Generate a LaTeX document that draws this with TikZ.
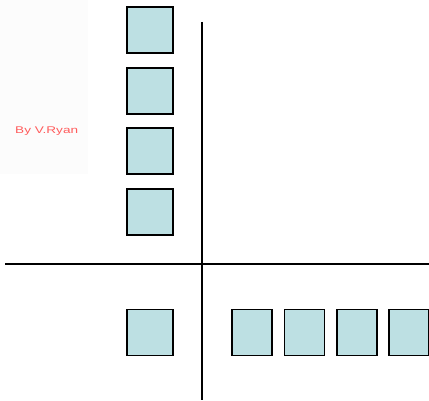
\documentclass[tikz,border=0pt]{standalone}
\usepackage{fontspec}
\setmainfont{Liberation Sans}
\definecolor{sqfill}{HTML}{BDE0E3}
\definecolor{wm}{HTML}{FF5C5C}
\begin{document}
\begin{tikzpicture}[x=1pt,y=-1pt,
  sq/.style={draw=black,line width=1.6pt,fill=sqfill,minimum width=46pt,minimum height=46pt,inner sep=0pt,outer sep=0pt},
  sqn/.style={sq,minimum width=40pt,minimum height=46pt},
  axis/.style={draw=black,line width=1.5pt}]
\useasboundingbox (0,0) rectangle (429,401);
\fill[black!1] (0,0) rectangle (88,174);
\node[text=wm,font=\fontsize{9.7}{10}\selectfont,inner sep=0pt,anchor=west] (wmark) at (15,131) {\scalebox{1.4}[1]{By V.Ryan}};
\node[sq] (a1) at (150,30) {};
\node[sq] (a2) at (150,91) {};
\node[sq] (a3) at (150,151) {};
\node[sq] (a4) at (150,212) {};
\node[sq] (b0) at (150,332.5) {};
\node[sqn] (b1) at (252,332.5) {};
\node[sqn] (b2) at (304.5,332.5) {};
\node[sqn] (b3) at (357,332.5) {};
\node[sqn] (b4) at (409,332.5) {};
\coordinate (vt) at (202,22);
\coordinate (vb) at (202,400);
\coordinate (hl) at (5,264);
\coordinate (hr) at (429,264);
\draw[axis] (vt) -- (vb);
\draw[axis] (hl) -- (hr);
\end{tikzpicture}
\end{document}
